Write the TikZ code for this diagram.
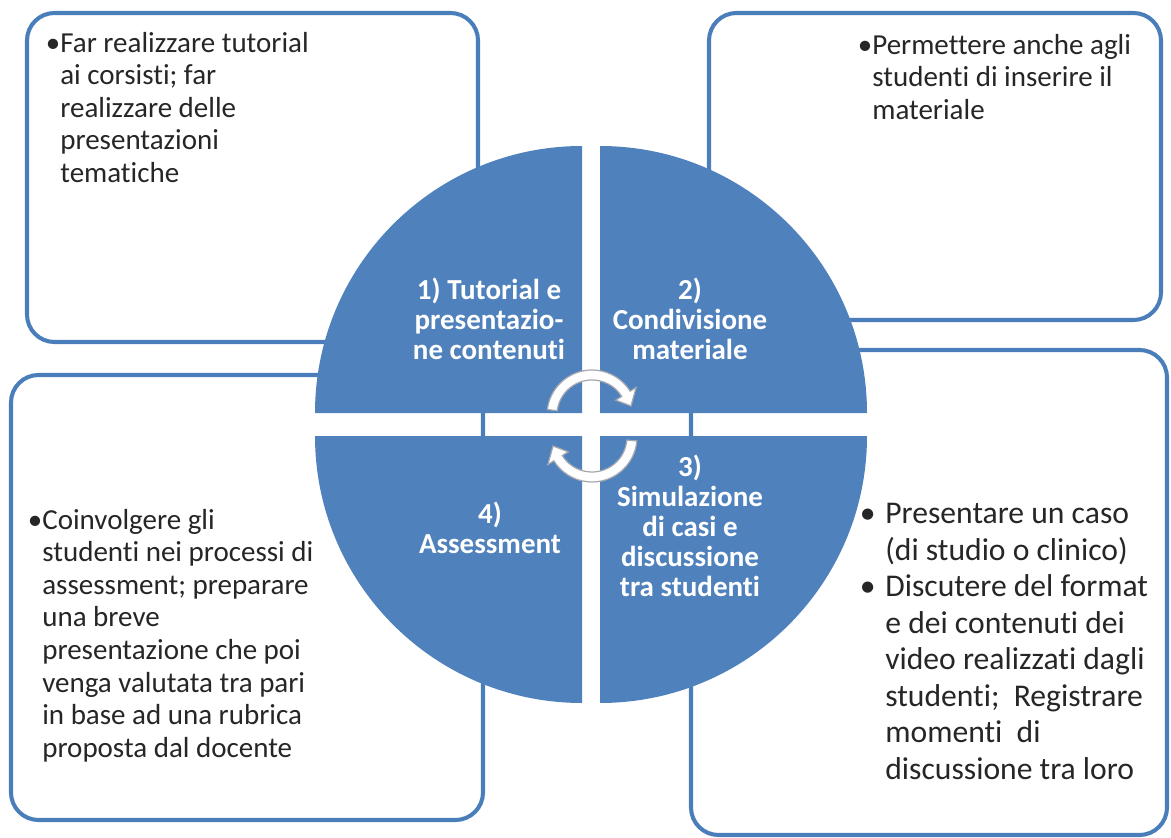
\documentclass[tikz,border=0pt]{standalone}
\usepackage{fontspec}
\setmainfont{Carlito}[Ligatures=NoCommon]
\usetikzlibrary{positioning,arrows.meta,fit,calc}
\definecolor{quadblue}{RGB}{79,129,189}
\definecolor{boxblue}{RGB}{74,126,187}
\definecolor{cycgray}{RGB}{165,168,175}

\begin{document}
\begin{tikzpicture}[x=0.02cm, y=-0.02cm,
    box/.style={draw=boxblue, line width=2.3pt, rounded corners=0.55cm, fill=white, inner sep=0pt},
    quad/.style={fill=quadblue},
    note/.style={anchor=north west, align=left, inner sep=0pt, text=black!85, font=\fontsize{16.5}{18.5}\selectfont},
    bignote/.style={note, font=\fontsize{18}{20.8}\selectfont},
    quadlabel/.style={align=center, inner sep=0pt, text=white, font=\bfseries\fontsize{16.5}{17}\selectfont},
    cyc/.style={draw=cycgray, line width=0.7pt, fill=white}]
    \useasboundingbox (0,0) rectangle (1171,838);
    \clip (0,0) rectangle (1171,838);

    % boxes behind the circle
    \node[box, fit={(27,13) (478,342)}] (boxTut) {};
    \node[box, fit={(709,13) (1161,320)}] (boxMat) {};
    \node[box, fit={(11,375) (483,820)}] (boxAss) {};
    \node[box, fit={(691,350) (1167,835)}] (boxSim) {};

    % the four quarters
    \coordinate (cTL) at (582,413);
    \coordinate (cTR) at (600,413);
    \coordinate (cBR) at (600,436);
    \coordinate (cBL) at (582,436);
    \fill[quad] (cTL) -- ++(180:267) arc[start angle=180, end angle=270, radius=267] -- cycle;
    \fill[quad] (cTR) -- ++(270:267) arc[start angle=270, end angle=360, radius=267] -- cycle;
    \fill[quad] (cBR) -- ++(0:267) arc[start angle=0, end angle=90, radius=267] -- cycle;
    \fill[quad] (cBL) -- ++(90:267) arc[start angle=90, end angle=180, radius=267] -- cycle;

    \node[quadlabel] (lblTut) at (489,319) {1) Tutorial e\\presentazio-\\ne contenuti};
    \node[quadlabel] (lblMat) at (690,319) {2)\\Condivisione\\materiale};
    \node[quadlabel] (lblSim) at (690,526) {3)\\Simulazione\\di casi e\\discussione\\tra studenti};
    \node[quadlabel] (lblAss) at (490,528) {4)\\Assessment};

    % cycle arrows in the middle
    \coordinate (cycTop) at (592,415);
    \coordinate (cycBot) at (592,437);
    \draw[cyc] ($(cycTop)+(187:45)$) arc[start angle=187, end angle=328, radius=45]
        -- ($(cycTop)+(328:52)$) -- ($(cycTop)+(347:40)$) -- ($(cycTop)+(328:28)$)
        -- ($(cycTop)+(328:35)$) arc[start angle=328, end angle=187, radius=35] -- cycle;
    \draw[cyc] ($(cycBot)+(5:45)$) arc[start angle=5, end angle=148, radius=45]
        -- ($(cycBot)+(148:52)$) -- ($(cycBot)+(167:40)$) -- ($(cycBot)+(148:28)$)
        -- ($(cycBot)+(148:35)$) arc[start angle=148, end angle=5, radius=35] -- cycle;

    % box texts
    \node[note] (txtTut) at (60,32) {\llap{•}Far realizzare tutorial\\ai corsisti; far\\realizzare delle\\presentazioni\\tematiche};
    \node[note] (txtMat) at (872,34) {\llap{•}Permettere anche agli\\studenti di inserire il\\materiale};
    \node[note] (txtAss) at (42,509) {\llap{•}Coinvolgere gli\\studenti nei processi di\\assessment; preparare\\una breve\\presentazione che poi\\venga valutata tra pari\\in base ad una rubrica\\proposta dal docente};
    \node[bignote] (txtSim) at (885,503) {\llap{•\hspace{5.5pt}}Presentare un caso\\(di studio o clinico)\\\llap{•\hspace{5.5pt}}Discutere del format\\e dei contenuti dei\\video realizzati dagli\\studenti;\ \ Registrare\\momenti\ \ di\\discussione tra loro};
\end{tikzpicture}
\end{document}
